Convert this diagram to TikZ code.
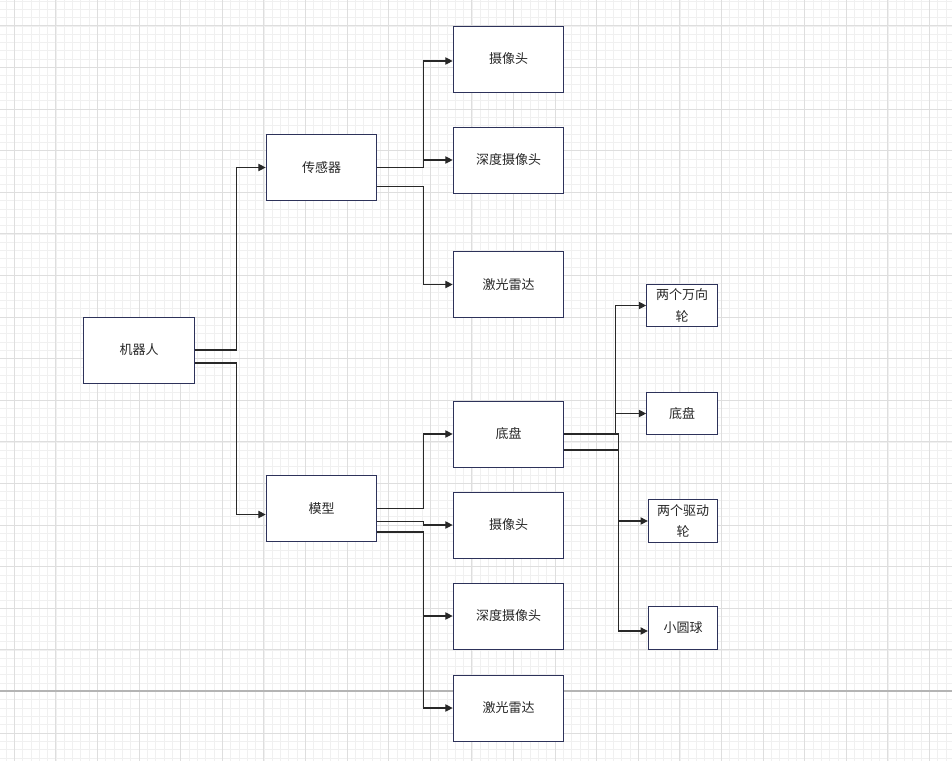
\documentclass[tikz,border=0pt]{standalone}
\usepackage{fontspec}
\setmainfont{Noto Sans CJK SC}
\usepackage{xcolor}
\usepackage{tikz}
\usetikzlibrary{arrows.meta, positioning}
\definecolor{borde}{RGB}{45,50,90}
\definecolor{linea}{RGB}{40,40,40}
\definecolor{texto}{RGB}{40,40,40}
\definecolor{menor}{RGB}{240,240,240}
\definecolor{mayor}{RGB}{222,222,222}
\definecolor{corte}{RGB}{180,180,180}

\begin{document}
\begin{tikzpicture}[
        x=0.75pt, y=-0.75pt,
        block/.style={rectangle, draw=borde, line width=0.75pt, fill=white, minimum width=83pt, minimum height=49.5pt, align=center, font=\fontsize{9.75}{16}\selectfont\color{texto}},
        smallblock/.style={block, minimum width=53pt, minimum height=32pt, inner sep=1pt},
        arrow/.style={-{Triangle[length=5.5pt, width=5.5pt]}, line width=0.8pt, linea}
    ]
        % fondo cuadriculado
        \useasboundingbox (0,0) rectangle (952,761);
        \fill[white] (0,0) rectangle (952,761);
        \foreach \i in {0,...,114}
            \draw[menor, line width=0.6pt] (5.98+8.32*\i,0) -- (5.98+8.32*\i,761);
        \foreach \i in {0,...,91}
            \draw[menor, line width=0.6pt] (0,0.94+8.32*\i) -- (952,0.94+8.32*\i);
        \foreach \i in {0,...,22}
            \draw[mayor, line width=0.7pt] (14.3+41.6*\i,0) -- (14.3+41.6*\i,761);
        \foreach \i in {0,...,18}
            \draw[mayor, line width=0.7pt] (0,25.9+41.6*\i) -- (952,25.9+41.6*\i);
        \draw[corte, line width=0.8pt] (0,691) -- (952,691);

        % nodos
        \node[block] (robot) at (139,350) {机器人};
        \node[block] (sensor) at (321.5,167.5) {传感器};
        \node[block] (model) at (321.5,508.5) {模型};

        \node[block] (cam) at (508.5,59) {摄像头};
        \node[block] (depth) at (508.5,160) {深度摄像头};
        \node[block] (lidar) at (508.5,284.5) {激光雷达};

        \node[block] (chassis) at (508.5,434) {底盘};
        \node[block] (camb) at (508.5,525) {摄像头};
        \node[block] (depthb) at (508.5,616) {深度摄像头};
        \node[block] (lidarb) at (508.5,708) {激光雷达};

        \node[smallblock] (caster) at (682,305.5) {两个万向\\轮};
        \node[smallblock] (base) at (682,413.5) {底盘};
        \node[smallblock, minimum width=52pt] (drive) at (683,521) {两个驱动\\轮};
        \node[smallblock, minimum width=52pt] (ball) at (683,628) {小圆球};

        % conexiones
        \draw[arrow] (robot.east) -- ++(42,0) |- (sensor.west);
        \draw[arrow] ([yshift=-9.75pt]robot.east) -- ++(42,0) |- ([yshift=-4.5pt]model.west);

        \draw[arrow] (sensor.east) -- ++(46,0) |- ([yshift=-1.5pt]cam.west);
        \draw[arrow] (sensor.east) -- ++(46,0) |- (depth.west);
        \draw[arrow] ([yshift=-14pt]sensor.east) -- ++(46,0) |- (lidar.west);

        \draw[arrow] (model.east) -- ++(46,0) |- (chassis.west);
        \draw[arrow] ([yshift=-10pt]model.east) -- ++(46,0) |- (camb.west);
        \draw[arrow] ([yshift=-17.6pt]model.east) -- ++(46,0) |- (depthb.west);
        \draw[arrow] ([yshift=-17.6pt]model.east) -- ++(46,0) |- (lidarb.west);

        \draw[arrow] (chassis.east) -- ++(51,0) |- (caster.west);
        \draw[arrow] (chassis.east) -- ++(51,0) |- (base.west);
        \draw[arrow] (chassis.east) -- ++(54,0) |- (drive.west);
        \draw[arrow] ([yshift=-12pt]chassis.east) -- ++(54,0) |- ([yshift=-2.25pt]ball.west);
    \end{tikzpicture}
\end{document}
